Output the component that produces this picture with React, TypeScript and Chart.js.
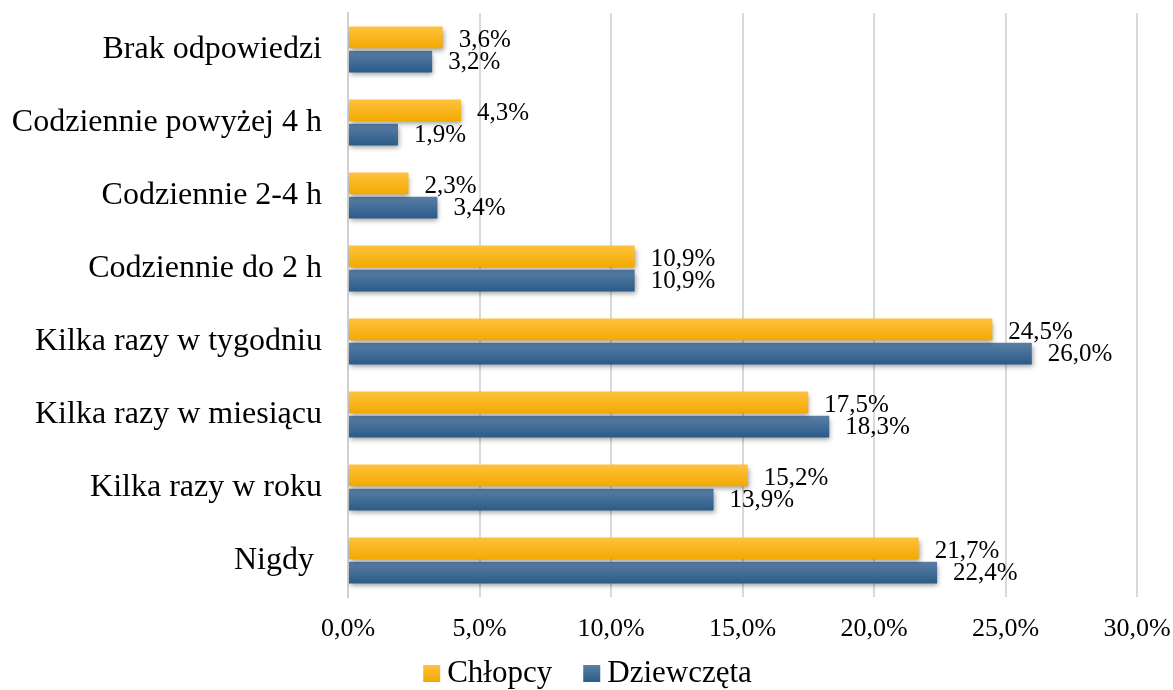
import React, { useEffect, useRef } from "react";
import { Chart, registerables } from "chart.js";

Chart.register(...registerables);

const categories = [
  "Brak odpowiedzi",
  "Codziennie powyżej 4 h",
  "Codziennie 2-4 h",
  "Codziennie do 2 h",
  "Kilka razy w tygodniu",
  "Kilka razy w miesiącu",
  "Kilka razy w roku",
  "Nigdy ",
];
const chlopcy = [3.6, 4.3, 2.3, 10.9, 24.5, 17.5, 15.2, 21.7];
const dziewczeta = [3.2, 1.9, 3.4, 10.9, 26.0, 18.3, 13.9, 22.4];
const seriesNames = ["Chłopcy", "Dziewczęta"];
const xTicks = [0, 5, 10, 15, 20, 25, 30];

const FONT = "'Liberation Serif', 'Times New Roman', serif";
const gradStops = [
  ["#FFC23E", "#F2A900"],
  ["#5B7FA6", "#2B5B88"],
];
const labelDy = [3, 1];

const fmt = (v: number) => v.toFixed(1).replace(".", ",") + "%";

const barStylePlugin = {
  id: "barStyle",
  beforeDatasetsDraw(chart: any) {
    const ctx = chart.ctx;
    chart.data.datasets.forEach((ds: any, di: number) => {
      const meta = chart.getDatasetMeta(di);
      meta.data.forEach((el: any) => {
        const h = el.height;
        const g = ctx.createLinearGradient(0, el.y - h / 2, 0, el.y + h / 2);
        g.addColorStop(0, gradStops[di][0]);
        g.addColorStop(1, gradStops[di][1]);
        el.options = Object.assign({}, el.options, { backgroundColor: g });
      });
    });
    ctx.save();
    ctx.shadowColor = "rgba(0,0,0,0.38)";
    ctx.shadowBlur = 5;
    ctx.shadowOffsetX = 1;
    ctx.shadowOffsetY = 3;
  },
  afterDatasetsDraw(chart: any) {
    const ctx = chart.ctx;
    ctx.restore();
    ctx.save();
    ctx.font = `25px ${FONT}`;
    ctx.fillStyle = "#000";
    ctx.textAlign = "left";
    ctx.textBaseline = "middle";
    chart.data.datasets.forEach((ds: any, di: number) => {
      const meta = chart.getDatasetMeta(di);
      meta.data.forEach((el: any, i: number) => {
        ctx.fillText(fmt(ds.data[i]), el.x + 16, el.y + labelDy[di]);
      });
    });
    ctx.restore();
  },
};

const legendPlugin = {
  id: "customLegend",
  afterDraw(chart: any) {
    const ctx = chart.ctx;
    ctx.save();
    ctx.font = `31px ${FONT}`;
    ctx.textAlign = "left";
    ctx.textBaseline = "alphabetic";
    const box = 17;
    const gap = 7;
    const itemGap = 31;
    const names = chart.data.datasets.map((d: any) => d.label);
    const widths = names.map((n: string) => ctx.measureText(n).width);
    const total =
      widths.reduce((a: number, w: number) => a + box + gap + w, 0) + itemGap * (names.length - 1);
    let x = chart.width / 2 - total / 2 + 1;
    const boxTop = 665;
    const baseline = 682;
    names.forEach((n: string, i: number) => {
      const g = ctx.createLinearGradient(0, boxTop, 0, boxTop + box);
      g.addColorStop(0, gradStops[i][0]);
      g.addColorStop(1, gradStops[i][1]);
      ctx.fillStyle = g;
      ctx.fillRect(x, boxTop, box, box);
      ctx.fillStyle = "#000";
      ctx.fillText(n, x + box + gap, baseline);
      x += box + gap + widths[i] + itemGap;
    });
    ctx.restore();
  },
};

export default function App() {
  const ref = useRef<HTMLCanvasElement | null>(null);
  useEffect(() => {
    if (!ref.current) return;
    const chart = new Chart(ref.current, {
      type: "bar",
      data: {
        labels: categories,
        datasets: [
          {
            label: seriesNames[0],
            data: chlopcy,
            backgroundColor: "#F8B418",
            barPercentage: 0.9,
            categoryPercentage: 0.66,
          },
          {
            label: seriesNames[1],
            data: dziewczeta,
            backgroundColor: "#3C6792",
            barPercentage: 0.9,
            categoryPercentage: 0.66,
          },
        ],
      },
      options: {
        indexAxis: "y",
        animation: false,
        responsive: true,
        maintainAspectRatio: false,
        layout: { padding: { top: 13, right: 36, left: 0, bottom: 43 } },
        scales: {
          x: {
            min: 0,
            max: 30,
            afterBuildTicks: (s: any) => {
              s.ticks = xTicks.map((v) => ({ value: v }));
            },
            afterFit: (s: any) => {
              s.height = 50;
              s.paddingLeft = 0;
              s.paddingRight = 0;
            },
            grid: { color: "#D9D9D9", lineWidth: 2, drawTicks: false },
            border: { display: false },
            ticks: {
              padding: 17,
              color: "#000",
              font: { family: FONT, size: 26 },
              callback: (v: any) => fmt(Number(v)),
            },
          },
          y: {
            afterFit: (s: any) => {
              s.width = 348;
              s.paddingTop = 0;
              s.paddingBottom = 0;
            },
            grid: { display: false, drawTicks: false },
            border: { display: true, color: "#D0D0D0", width: 2 },
            ticks: {
              padding: 26,
              color: "#000",
              font: { family: FONT, size: 32 },
            },
          },
        },
        plugins: {
          legend: { display: false },
          tooltip: { enabled: false },
        },
      },
      plugins: [barStylePlugin, legendPlugin],
    });
    return () => chart.destroy();
  }, []);
  return (
    <div style={{ position: "fixed", left: 0, top: 0, width: 1173, height: 690, background: "#fff" }}>
      <canvas ref={ref} />
    </div>
  );
}
